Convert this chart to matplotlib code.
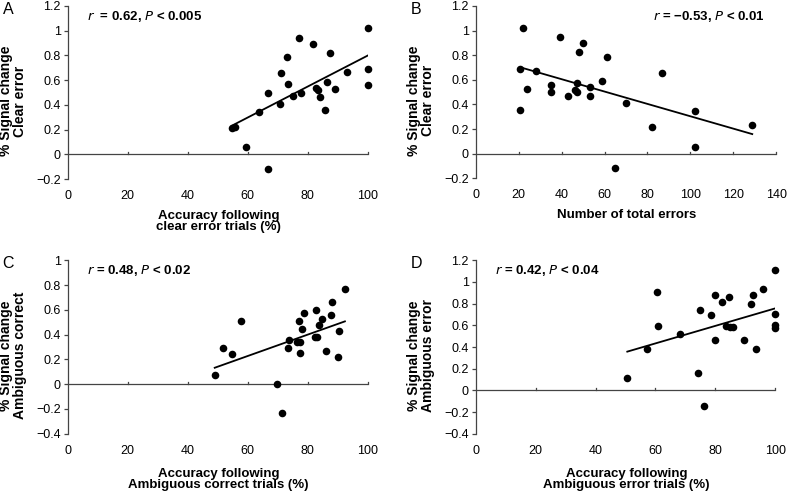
import numpy as np
import matplotlib
matplotlib.use("Agg")
import matplotlib.pyplot as plt

plt.rcParams['font.family'] = ['Liberation Sans', 'DejaVu Sans']

# Shared y values: % signal change, clear error (panels A, B)
clear_error_signal = [0.21, 0.22, 0.06, 0.34, 0.50, -0.12, 0.41, 0.655, 0.785, 0.566,
                      0.47, 0.944, 0.50, 0.895, 0.534, 0.52, 0.467, 0.356, 0.588, 0.823,
                      0.526, 0.669, 1.02, 0.688, 0.558]
# Panel A x: accuracy following clear error trials (%)
acc_clear_error = [54.7, 55.8, 59.3, 63.7, 66.6, 66.6, 70.8, 71.1, 73.0, 73.3,
                   75.1, 77.1, 77.8, 81.7, 82.7, 83.3, 84.1, 85.8, 86.4, 87.4,
                   89.1, 93.1, 100, 100, 100]

# Panel B
total_errors = [21.9, 20.8, 20.8, 23.8, 28.0, 35.1, 35.1, 39.2, 42.8, 46.3,
                47.3, 47.3, 48.1, 49.9, 53.3, 53.3, 58.8, 61.1, 64.9, 69.8,
                82.0, 86.8, 102.3, 102.2, 128.8]
total_errors_signal = [1.02, 0.688, 0.358, 0.528, 0.675, 0.561, 0.504, 0.951, 0.472, 0.518,
                       0.575, 0.504, 0.829, 0.90, 0.539, 0.472, 0.593, 0.789, -0.119, 0.415,
                       0.214, 0.659, 0.344, 0.057, 0.230]

# Panel C
acc_amb_correct = [49.0, 51.7, 54.7, 57.7, 69.8, 71.3, 73.3, 73.9, 76.3, 77.0,
                   77.3, 77.4, 78.0, 78.7, 82.3, 82.8, 83.1, 83.7, 84.7, 86.0,
                   87.7, 88.0, 90.0, 90.3, 92.4]
amb_correct_signal = [0.070, 0.288, 0.240, 0.512, 0.0, -0.229, 0.288, 0.353, 0.342, 0.512,
                      0.253, 0.342, 0.447, 0.577, 0.383, 0.601, 0.383, 0.480, 0.528, 0.270,
                      0.561, 0.666, 0.216, 0.431, 0.768]

# Panel D
acc_amb_error = [50.6, 57.2, 60.5, 61.0, 68.1, 74.2, 75.0, 76.3, 78.5, 79.9,
                 80.0, 82.3, 83.4, 84.5, 85.0, 85.8, 89.5, 91.9, 92.7, 93.5,
                 95.8, 100, 100, 100, 100]
amb_error_signal = [0.117, 0.382, 0.905, 0.597, 0.523, 0.163, 0.745, -0.142, 0.698, 0.88,
                    0.468, 0.815, 0.597, 0.862, 0.585, 0.585, 0.468, 0.80, 0.88, 0.382,
                    0.938, 1.11, 0.705, 0.603, 0.578]

R = r'$\bf{\it{r}}$'
P = r'$\bf{\it{P}}$'

panels = [
    dict(letter='A', x=acc_clear_error, y=clear_error_signal, xlim=(0, 100), xticks=[0, 20, 40, 60, 80, 100],
         ylim=(-0.2, 1.2), yticks=[-0.2, 0, 0.2, 0.4, 0.6, 0.8, 1, 1.2],
         ylabel='% Signal change\nClear error', xlabel='Accuracy following\nclear error trials (%)',
         stat=(R + '  = 0.62, ' + P + ' < 0.005', 'left'), xly=-0.178,
         rect=[67.7, 6, 367.7, 179]),
    dict(letter='B', x=total_errors, y=total_errors_signal, xlim=(0, 140), xticks=[0, 20, 40, 60, 80, 100, 120, 140],
         ylim=(-0.2, 1.2), yticks=[-0.2, 0, 0.2, 0.4, 0.6, 0.8, 1, 1.2],
         ylabel='% Signal change\nClear error', xlabel='Number of total errors',
         stat=(R + ' = \u22120.53, ' + P + ' < 0.01', 'right'), xly=-0.178,
         rect=[475.7, 6, 776.3, 178.3]),
    dict(letter='C', x=acc_amb_correct, y=amb_correct_signal, xlim=(0, 100), xticks=[0, 20, 40, 60, 80, 100],
         ylim=(-0.4, 1.0), yticks=[-0.4, -0.2, 0, 0.2, 0.4, 0.6, 0.8, 1],
         ylabel='% Signal change\nAmbiguous correct', xlabel='Accuracy following\nAmbiguous correct trials (%)',
         stat=(R + ' = 0.48, ' + P + ' < 0.02', 'left'), xly=-0.196,
         rect=[67.7, 260.3, 367.7, 433.7]),
    dict(letter='D', x=acc_amb_error, y=amb_error_signal, xlim=(0, 100), xticks=[0, 20, 40, 60, 80, 100],
         ylim=(-0.4, 1.2), yticks=[-0.4, -0.2, 0, 0.2, 0.4, 0.6, 0.8, 1, 1.2],
         ylabel='% Signal change\nAmbiguous error', xlabel='Accuracy following\nAmbiguous error trials (%)',
         stat=(R + ' = 0.42, ' + P + ' < 0.04', 'left'), xly=-0.196,
         rect=[475.7, 260.3, 775.3, 433.7]),
]

W, H = 787, 493
fig = plt.figure(figsize=(W / 100, H / 100), dpi=100)
axis_col = '#444444'


def fmt(v):
    if abs(v) < 1e-9:
        return '0'
    return ('%g' % v).replace('-', '\u2212')


for p in panels:
    x0, y0, x1, y1 = p['rect']
    ax = fig.add_axes([x0 / W, 1 - y1 / H, (x1 - x0) / W, (y1 - y0) / H])
    ax.set_xlim(*p['xlim'])
    ax.set_ylim(*p['ylim'])
    for s in ['top', 'right', 'bottom']:
        ax.spines[s].set_visible(False)
    ax.spines['left'].set_color(axis_col)
    ax.spines['left'].set_linewidth(0.9)
    ax.set_yticks(p['yticks'])
    ax.set_yticklabels([fmt(v) for v in p['yticks']])
    ax.set_xticks(p['xticks'])
    ax.set_xticklabels([fmt(v) for v in p['xticks']])
    ax.tick_params(axis='y', direction='out', length=3, width=0.9, color=axis_col, labelsize=9, pad=2)
    ax.tick_params(axis='x', length=0, labelsize=9, pad=8)
    ax.patch.set_alpha(0)

    # x axis line at y = 0 with small upward ticks
    ax.axhline(0, color=axis_col, lw=0.9, zorder=1)
    yr = p['ylim'][1] - p['ylim'][0]
    for xt in p['xticks'][1:]:
        ax.plot([xt, xt], [0, 0.012 * yr], color=axis_col, lw=0.9, zorder=1, clip_on=False)

    xs = np.array(p['x'])
    ys = np.array(p['y'])
    ax.scatter(xs, ys, s=30, color='black', zorder=3, clip_on=False, linewidths=0)
    m, b = np.polyfit(xs, ys, 1)
    xx = np.array([xs.min(), xs.max()])
    ax.plot(xx, m * xx + b, color='black', lw=1.3, zorder=2)

    ax.set_ylabel(p['ylabel'], fontsize=10, fontweight='bold', linespacing=0.95)
    ax.yaxis.set_label_coords(-0.137, 0.45)
    ax.set_xlabel(p['xlabel'], fontsize=9.5, fontweight='bold', linespacing=0.95)
    ax.xaxis.set_label_coords(0.503, p['xly'])

    txt, ha = p['stat']
    if ha == 'left':
        ax.text(0.063, 0.94, txt, transform=ax.transAxes, fontsize=9.5, fontweight='bold', ha='left', va='center')
    else:
        ax.text(0.962, 0.94, txt, transform=ax.transAxes, fontsize=9.5, fontweight='bold', ha='right', va='center')

    fig.text((x0 - 65) / W, 1 - (y0 + 3) / H, p['letter'], fontsize=11.5, ha='left', va='center')

fig.savefig('out.png', dpi=100)
